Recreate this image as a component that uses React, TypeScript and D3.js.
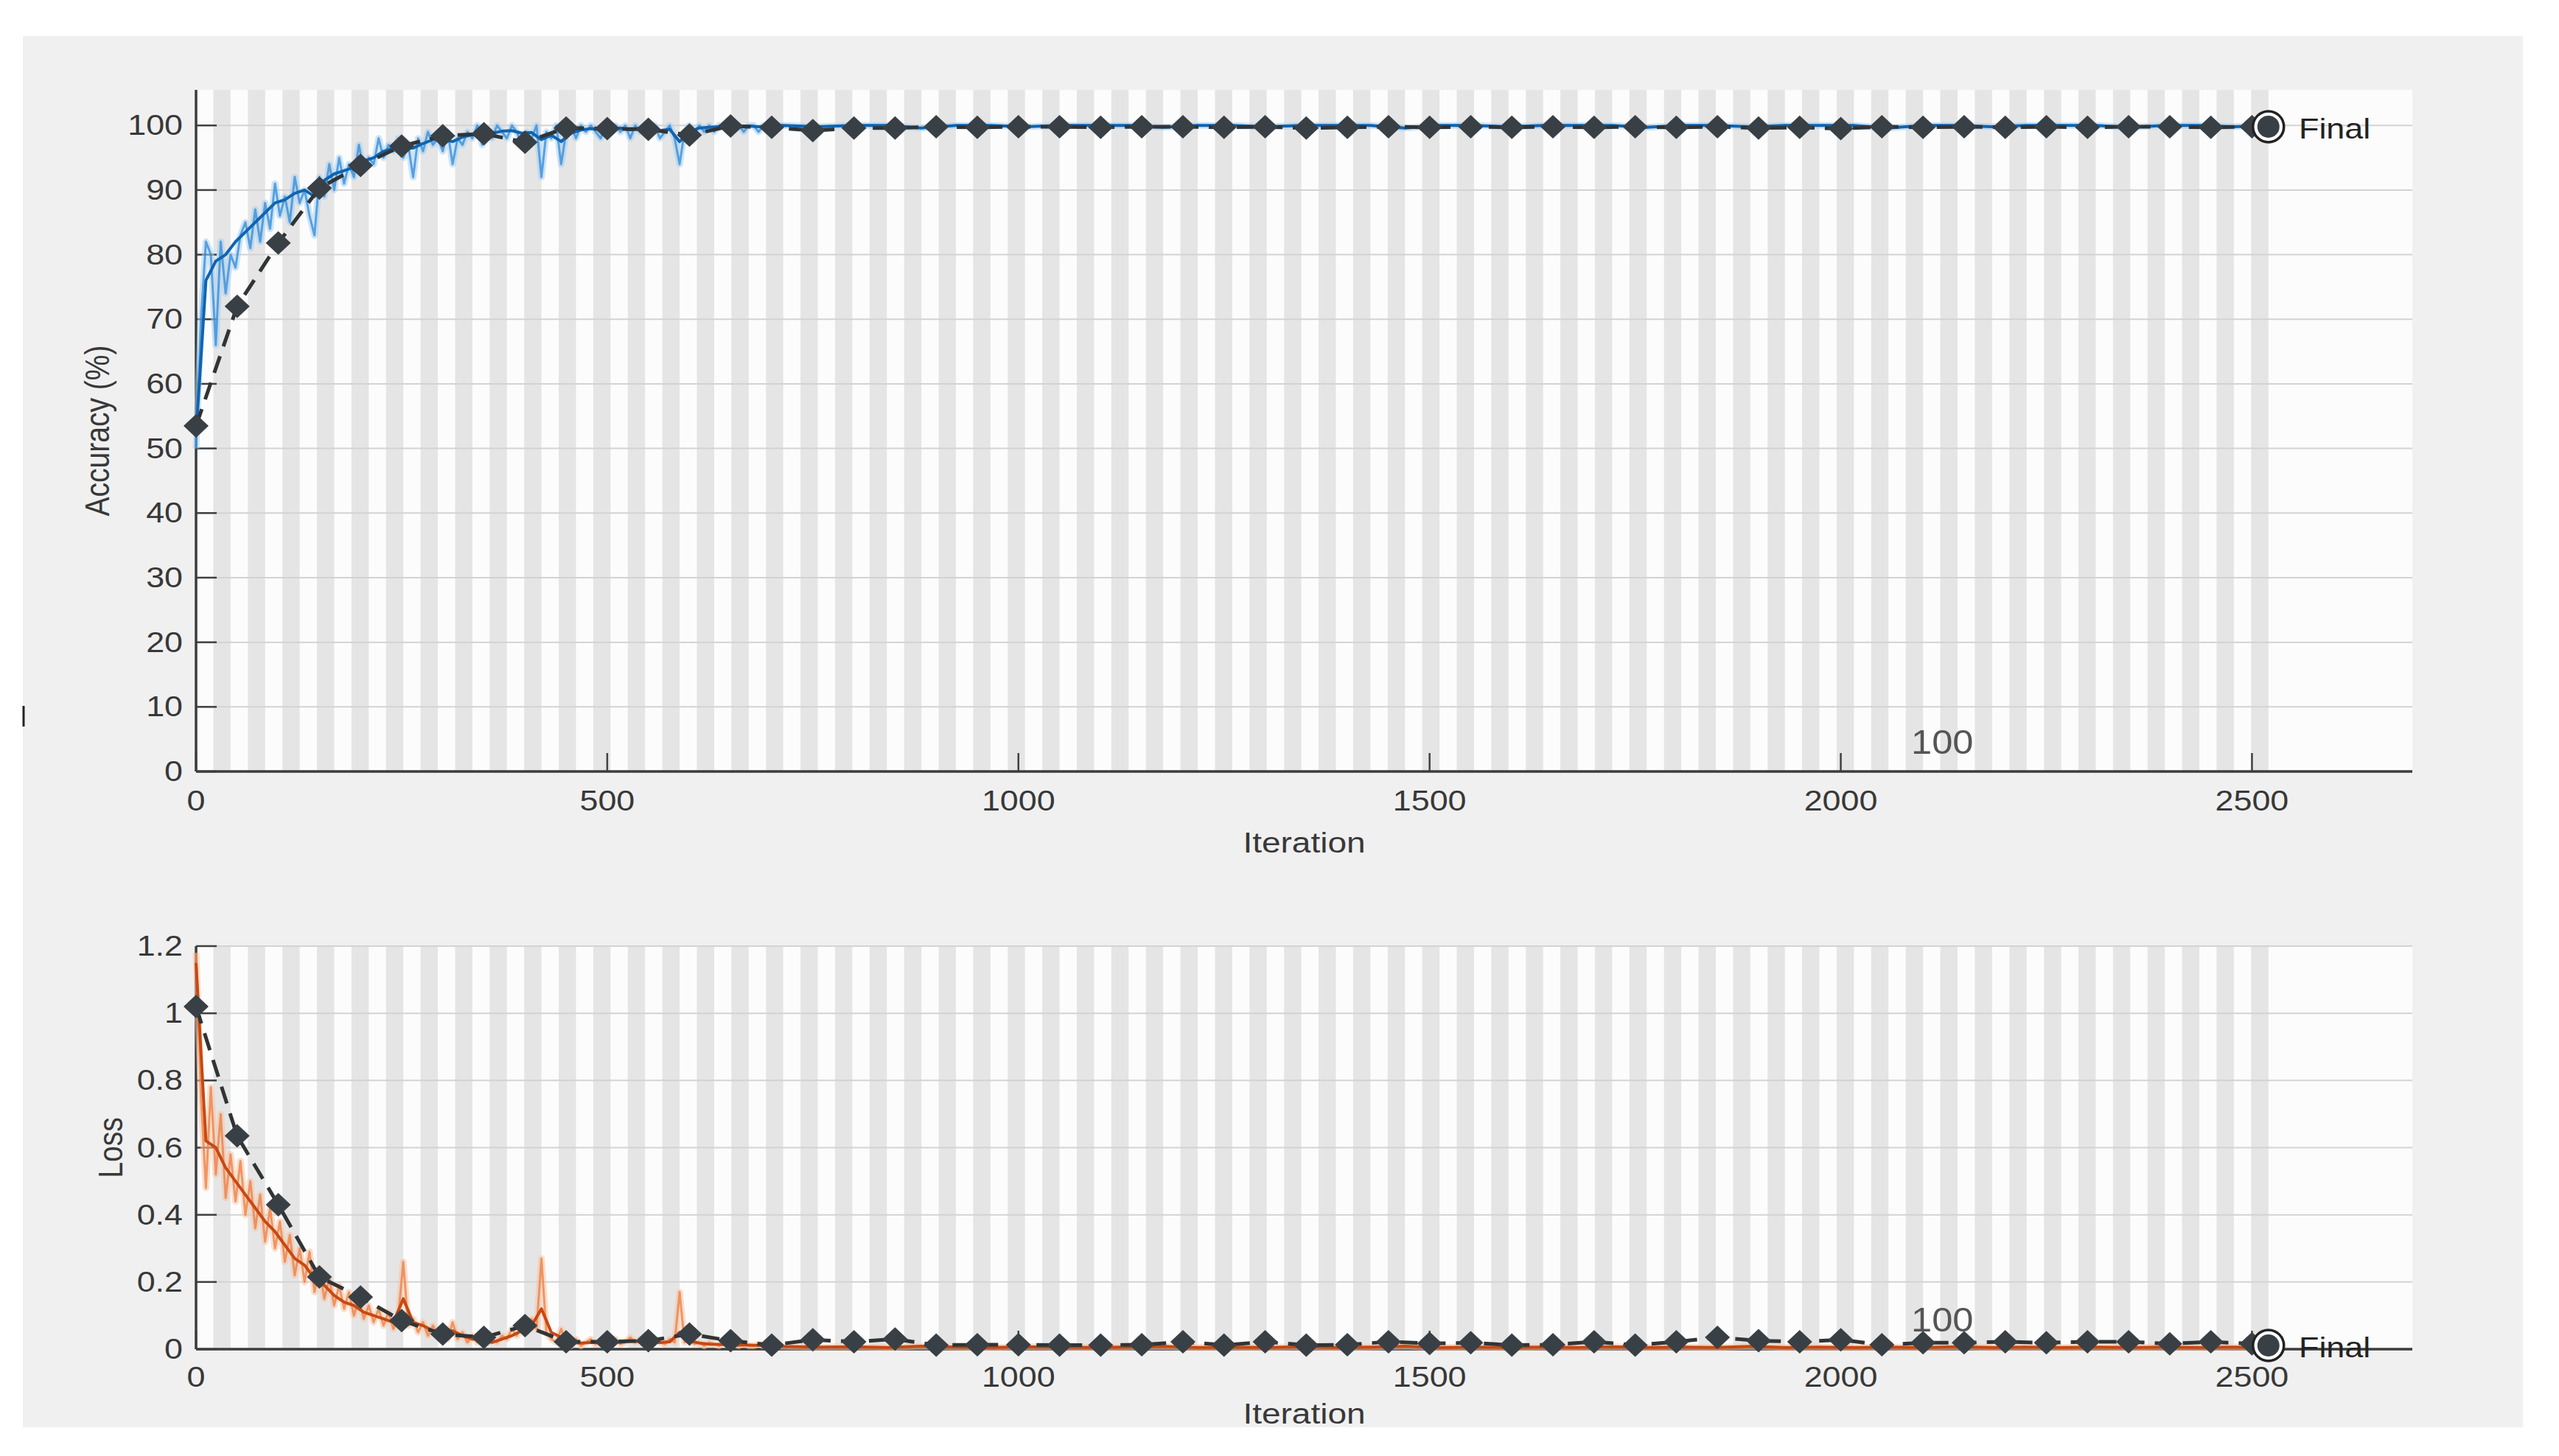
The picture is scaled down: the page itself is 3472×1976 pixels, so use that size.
import React from "react";
import * as d3 from "d3";

// values
const ITERS_PER_EPOCH = 21;
const NUM_EPOCHS = 120;
const RAW_STEP = 6;
const SMOOTH_STEP = 12;
const LATE_START = 714;
const LATE_STEP = 42;
const VAL_STEP = 50;
const FINAL_ITER = 2520;

const iterTicks = [0, 500, 1000, 1500, 2000, 2500];
const accTicks = [0, 10, 20, 30, 40, 50, 60, 70, 80, 90, 100];
const lossTicks = [0, 0.2, 0.4, 0.6, 0.8, 1, 1.2];

// training accuracy, every 6 iterations from 0 to 696
const accRaw = [
  50, 70, 82, 80, 66, 82, 74, 80, 78, 83,
  85, 81, 87, 82, 88, 84, 91, 86, 89, 85,
  92, 88, 90, 86, 83, 92, 89, 94, 90, 95,
  91, 94, 92, 97, 93, 95, 94, 98, 95, 97,
  96, 98, 95, 97, 92, 98, 96, 99, 97, 98,
  96, 99, 94, 98, 97, 99, 98, 100, 97, 99,
  98, 100, 99, 98, 100, 99, 97, 99, 98, 100,
  92, 99, 98, 100, 94, 99, 100, 98, 100, 99,
  100, 99, 98, 100, 99, 100, 99, 100, 98, 100,
  99, 100, 99, 100, 98, 99, 100, 98, 94, 99,
  100, 99, 100, 99, 100, 99, 100, 100, 99, 100,
  100, 99, 100, 100, 99, 100, 100,
];

// smoothed training accuracy, every 12 iterations from 0 to 696
const accSmooth = [
  52, 76, 79, 80, 82, 83.5, 85, 86.5, 88, 88.5,
  89.5, 90, 89, 91.5, 92.5, 93, 93.5, 94.5, 95, 96,
  96.5, 96.5, 96.5, 97.2, 97.8, 97.8, 97.5, 98.2, 98.6, 98.6,
  98.8, 99.1, 99.2, 98.8, 98.9, 97.8, 98.5, 97.5, 98.8, 99.3,
  99.5, 99.3, 99.5, 99.6, 99.3, 99.6, 99.6, 99.2, 99.4, 97.5,
  99.0, 99.6, 99.7, 99.8, 99.7, 99.9, 99.9, 99.8, 99.9,
];

// training accuracy, every 42 iterations from 714 to 2520
const accLate = [
  100, 99.8, 100, 100, 99.6, 100, 100, 99.8, 100, 100, 100,
  99.7, 100, 100, 99.8, 100, 100, 100, 99.6, 100, 100, 99.8,
  100, 100, 100, 99.7, 100, 100, 99.8, 100, 100, 100, 99.6,
  100, 100, 99.8, 100, 100, 100, 99.7, 100, 100, 99.8, 100,
];

// validation accuracy, every 50 iterations from 0 to 2500
const valAcc = [
  53.5, 72, 81.8, 90.3, 93.8, 96.8, 98.4, 98.7, 97.4, 99.6,
  99.5, 99.4, 98.5, 99.9, 99.7, 99.2, 99.6, 99.6, 99.8, 99.7,
  99.8, 99.8, 99.7, 99.8, 99.8, 99.7, 99.8, 99.6, 99.7, 99.8,
  99.7, 99.8, 99.7, 99.8, 99.7, 99.8, 99.7, 99.8, 99.6, 99.7,
  99.5, 99.8, 99.7, 99.8, 99.7, 99.8, 99.7, 99.8, 99.8, 99.7,
  99.8,
];
const finalAcc = 99.8;

// training loss, every 6 iterations from 0 to 696
const lossRaw = [
  1.18, 0.75, 0.48, 0.78, 0.52, 0.7, 0.45, 0.58, 0.44, 0.56,
  0.4, 0.5, 0.36, 0.46, 0.32, 0.42, 0.3, 0.38, 0.26, 0.34,
  0.22, 0.3, 0.2, 0.29, 0.17, 0.24, 0.15, 0.21, 0.13, 0.19,
  0.12, 0.17, 0.1, 0.15, 0.09, 0.13, 0.08, 0.12, 0.07, 0.11,
  0.06, 0.1, 0.26, 0.07, 0.09, 0.05, 0.08, 0.04, 0.07, 0.04,
  0.06, 0.03, 0.08, 0.03, 0.05, 0.02, 0.04, 0.02, 0.03, 0.015,
  0.03, 0.02, 0.04, 0.03, 0.06, 0.04, 0.07, 0.05, 0.09, 0.06,
  0.27, 0.05, 0.03, 0.02, 0.06, 0.02, 0.01, 0.03, 0.01, 0.02,
  0.03, 0.015, 0.02, 0.04, 0.02, 0.03, 0.015, 0.02, 0.035, 0.02,
  0.03, 0.015, 0.02, 0.03, 0.02, 0.015, 0.03, 0.02, 0.17, 0.02,
  0.03, 0.015, 0.02, 0.01, 0.02, 0.015, 0.01, 0.02, 0.01, 0.015,
  0.01, 0.02, 0.01, 0.01, 0.015, 0.01, 0.01,
];

// smoothed training loss, every 12 iterations from 0 to 696
const lossSmooth = [
  1.15, 0.62, 0.6, 0.54, 0.5, 0.46, 0.42, 0.38, 0.35, 0.31,
  0.27, 0.25, 0.21, 0.19, 0.16, 0.14, 0.13, 0.11, 0.1, 0.09,
  0.08, 0.15, 0.08, 0.07, 0.055, 0.05, 0.055, 0.04, 0.03, 0.025,
  0.02, 0.03, 0.04, 0.055, 0.07, 0.12, 0.05, 0.035, 0.02, 0.018,
  0.02, 0.02, 0.022, 0.02, 0.025, 0.022, 0.02, 0.02, 0.022, 0.05,
  0.025, 0.018, 0.015, 0.014, 0.013, 0.012, 0.012, 0.011, 0.01,
];

// training loss, every 42 iterations from 714 to 2520
const lossLate = [
  0.008, 0.006, 0.007, 0.005, 0.009, 0.006, 0.005, 0.007, 0.006, 0.005, 0.006,
  0.008, 0.005, 0.006, 0.005, 0.007, 0.005, 0.006, 0.009, 0.005, 0.006, 0.005,
  0.006, 0.005, 0.007, 0.005, 0.006, 0.005, 0.008, 0.005, 0.006, 0.005, 0.006,
  0.005, 0.007, 0.005, 0.006, 0.005, 0.006, 0.005, 0.006, 0.005, 0.006, 0.005,
];

// validation loss, every 50 iterations from 0 to 2500
const valLoss = [
  1.02, 0.635, 0.43, 0.215, 0.155, 0.085, 0.045, 0.035, 0.07, 0.022,
  0.022, 0.025, 0.045, 0.025, 0.012, 0.028, 0.022, 0.03, 0.012, 0.013,
  0.013, 0.012, 0.012, 0.013, 0.022, 0.012, 0.022, 0.012, 0.013, 0.022,
  0.017, 0.019, 0.012, 0.013, 0.022, 0.012, 0.022, 0.035, 0.025, 0.022,
  0.028, 0.013, 0.019, 0.019, 0.022, 0.019, 0.022, 0.022, 0.016, 0.022,
  0.016,
];
const finalLoss = 0.011;

const W = 3472;
const H = 1976;
const X0 = 266;
const X1 = 3273;
const FONT = "'Liberation Sans', Arial, Helvetica, sans-serif";
const SX = 1.18; // the figure's text is stretched sideways

const x = d3.scaleLinear().domain([0, 2695]).range([X0, X1]);

const withIter = (vals: number[], start: number, step: number) =>
  vals.map((v, i) => [start + i * step, v] as [number, number]);

function Txt(props: any) {
  const { x, y, anchor = "middle", size = 38, fill = "#383838", rotate = false, sx = SX, children } = props;
  const t = rotate
    ? `translate(${x},${y}) rotate(-90) scale(1,${sx})`
    : `translate(${x},${y}) scale(${sx},1)`;
  return (
    <text transform={t} textAnchor={anchor} fontSize={size} fill={fill} fontFamily={FONT}>
      {children}
    </text>
  );
}

const diamond = "M0,-16L17,0L0,16L-17,0Z";

function Panel(props: any) {
  const { top, bottom, domain, ticks, fmt, raw, smooth, val, fin, haloColor, rawColor, smoothColor, label, labelX, xLabelY, xTickY } = props;
  const y = d3.scaleLinear().domain(domain).range([bottom, top]);
  const line = d3.line<[number, number]>().x((d) => x(d[0])).y((d) => y(d[1]));
  const stripes = d3.range(1, NUM_EPOCHS, 2);
  const valPts = [...val, fin];

  return (
    <g>
      <rect x={X0} y={top} width={X1 - X0} height={bottom - top} fill="#fcfcfc" />
      {stripes.map((e) => (
        <rect
          key={e}
          x={x(e * ITERS_PER_EPOCH)}
          y={top}
          width={x((e + 1) * ITERS_PER_EPOCH) - x(e * ITERS_PER_EPOCH)}
          height={bottom - top}
          fill="#e5e5e5"
        />
      ))}
      {ticks.map((t: number) => (
        <line key={"g" + t} x1={X0} x2={X1} y1={y(t)} y2={y(t)} stroke="#d3d3d3" strokeWidth={2} />
      ))}
      {ticks.map((t: number) => (
        <line key={"yt" + t} x1={X0} x2={X0 + 28} y1={y(t)} y2={y(t)} stroke="#404040" strokeWidth={2.5} />
      ))}
      {iterTicks.map((t) => (
        <line key={"xt" + t} x1={x(t)} x2={x(t)} y1={bottom} y2={bottom - 25} stroke="#404040" strokeWidth={2.5} />
      ))}
      <line x1={X0} x2={X1} y1={bottom} y2={bottom} stroke="#3c3c3c" strokeWidth={3.5} />
      <line x1={X0} x2={X0} y1={top} y2={bottom} stroke="#3c3c3c" strokeWidth={3.5} />

      <path d={line(raw) || ""} fill="none" stroke={haloColor} strokeWidth={9} strokeOpacity={0.55} strokeLinejoin="round" />
      <path d={line(raw) || ""} fill="none" stroke={rawColor} strokeWidth={3} strokeOpacity={0.75} strokeLinejoin="round" />
      <path d={line(smooth) || ""} fill="none" stroke={smoothColor} strokeWidth={4} strokeLinejoin="round" />
      <path d={line(valPts) || ""} fill="none" stroke="#303436" strokeWidth={5} strokeDasharray="24,14" />
      {val.map((d: [number, number], i: number) => (
        <path key={"m" + i} d={diamond} transform={`translate(${x(d[0])},${y(d[1])})`} fill="#394045" />
      ))}
      <circle cx={x(fin[0])} cy={y(fin[1])} r={21} fill="#ffffff" stroke="#222" strokeWidth={3.5} />
      <circle cx={x(fin[0])} cy={y(fin[1])} r={15} fill="#394045" />

      {ticks.map((t: number) => (
        <Txt key={"yl" + t} x={248} y={y(t) + 13} anchor="end">
          {fmt(t)}
        </Txt>
      ))}
      {iterTicks.map((t) => (
        <Txt key={"xl" + t} x={x(t)} y={xTickY}>
          {t}
        </Txt>
      ))}
      <Txt x={(X0 + X1) / 2} y={xLabelY} size={39}>
        Iteration
      </Txt>
      <Txt x={labelX} y={(top + bottom) / 2} size={39} rotate>
        {label}
      </Txt>
      <Txt x={3119} y={y(fin[1]) + 16} anchor="start" fill="#222">
        Final
      </Txt>
      <Txt x={2593} y={bottom - 24} anchor="start" size={46} sx={1.1} fill="#555">
        100
      </Txt>
    </g>
  );
}

export default function App() {
  const accRawPts = [...withIter(accRaw, 0, RAW_STEP), ...withIter(accLate, LATE_START, LATE_STEP)];
  const accSmoothPts = [...withIter(accSmooth, 0, SMOOTH_STEP), ...withIter(accLate, LATE_START, LATE_STEP)];
  const lossRawPts = [...withIter(lossRaw, 0, RAW_STEP), ...withIter(lossLate, LATE_START, LATE_STEP)];
  const lossSmoothPts = [...withIter(lossSmooth, 0, SMOOTH_STEP), ...withIter(lossLate, LATE_START, LATE_STEP)];

  return (
    <svg width={W} height={H} style={{ display: "block", position: "absolute", left: 0, top: 0 }}>
      <rect x={0} y={0} width={W} height={H} fill="#ffffff" />
      <rect x={31} y={49} width={3392} height={1888} fill="#f0f0f0" />
      <line x1={32} x2={32} y1={958} y2={986} stroke="#222" strokeWidth={3} />
      <Panel
        top={122}
        bottom={1047}
        domain={[0, 105.5]}
        ticks={accTicks}
        fmt={(t: number) => String(t)}
        raw={accRawPts}
        smooth={accSmoothPts}
        val={withIter(valAcc, 0, VAL_STEP)}
        fin={[FINAL_ITER, finalAcc]}
        haloColor="#a6d0f2"
        rawColor="#2f8ad8"
        smoothColor="#0f64b0"
        label="Accuracy (%)"
        labelX={148}
        xTickY={1100}
        xLabelY={1157}
      />
      <Panel
        top={1284}
        bottom={1831}
        domain={[0, 1.2]}
        ticks={lossTicks}
        fmt={(t: number) => String(+t.toFixed(1))}
        raw={lossRawPts}
        smooth={lossSmoothPts}
        val={withIter(valLoss, 0, VAL_STEP)}
        fin={[FINAL_ITER, finalLoss]}
        haloColor="#f7c4a4"
        rawColor="#ec7c40"
        smoothColor="#c84812"
        label="Loss"
        labelX={166}
        xTickY={1882}
        xLabelY={1932}
      />
    </svg>
  );
}
